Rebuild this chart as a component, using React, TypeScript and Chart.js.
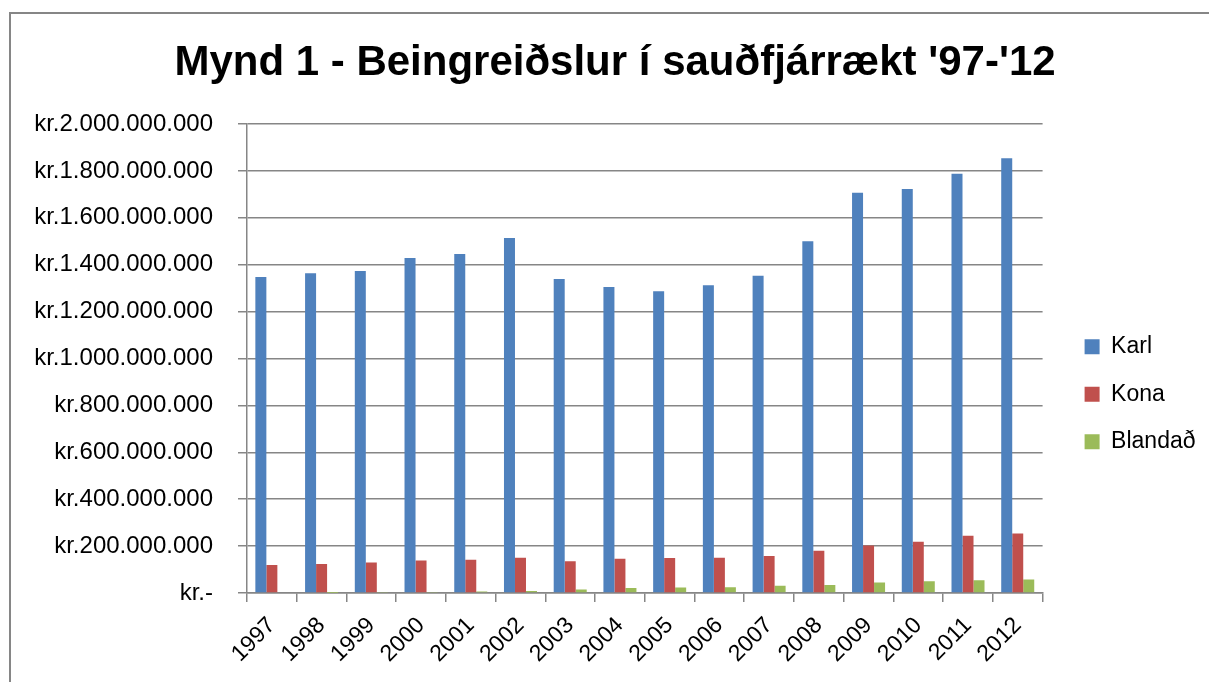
import React, { useEffect, useRef } from 'react';
import { Chart, registerables } from 'chart.js';

Chart.register(...registerables);

const years = ['1997', '1998', '1999', '2000', '2001', '2002', '2003', '2004', '2005', '2006', '2007', '2008', '2009', '2010', '2011', '2012'];
const karl = [1348e6, 1364e6, 1373e6, 1429e6, 1446e6, 1514e6, 1339e6, 1305e6, 1287e6, 1312e6, 1353e6, 1500e6, 1707e6, 1723e6, 1788e6, 1854e6];
const kona = [119e6, 124e6, 130e6, 139e6, 142e6, 150e6, 135e6, 146e6, 149e6, 150e6, 158e6, 180e6, 203e6, 219e6, 244e6, 254e6];
const blandad = [0, 0.5e6, 2e6, 4e6, 6e6, 9e6, 15e6, 21e6, 23e6, 24e6, 31e6, 34e6, 45e6, 50e6, 54e6, 58e6];
const yTickLabels = ['kr.-', 'kr.200.000.000', 'kr.400.000.000', 'kr.600.000.000', 'kr.800.000.000', 'kr.1.000.000.000', 'kr.1.200.000.000', 'kr.1.400.000.000', 'kr.1.600.000.000', 'kr.1.800.000.000', 'kr.2.000.000.000'];
const seriesNames = ['Karl', 'Kona', 'Blandað'];
const titleText = "Mynd 1 - Beingreiðslur í sauðfjárrækt '97-'12";

const FONT = "'Liberation Sans', Arial, sans-serif";
const GRID = '#868686';

export default function App() {
  const ref = useRef<HTMLCanvasElement>(null);
  useEffect(() => {
    if (!ref.current) return;
    const chart = new Chart(ref.current, {
      type: 'bar',
      data: {
        labels: years,
        datasets: [
          { label: seriesNames[0], data: karl, backgroundColor: '#4F81BD', yAxisID: 'y' },
          { label: seriesNames[1], data: kona, backgroundColor: '#C0504D', yAxisID: 'y' },
          { label: seriesNames[2], data: blandad, backgroundColor: '#9BBB59', yAxisID: 'y' },
        ],
      },
      options: {
        responsive: false,
        animation: false,
        datasets: { bar: { categoryPercentage: 0.664, barPercentage: 1 } },
        layout: { padding: { left: 24.5, top: 12, right: 3.5, bottom: 0 } },
        plugins: {
          title: {
            display: true,
            text: titleText,
            color: '#000',
            font: { family: FONT, size: 42, weight: 'bold' },
            padding: { top: 26, bottom: 35.6 },
          },
          legend: {
            position: 'right',
            title: { display: true, text: '', font: { size: 12 }, padding: { top: 80, bottom: 0 } },
            labels: {
              boxWidth: 15,
              boxHeight: 15,
              padding: 24.5,
              color: '#000',
              font: { family: FONT, size: 23 },
            },
          },
          tooltip: { enabled: false },
        },
        scales: {
          x: {
            grid: { offset: true, drawOnChartArea: false, tickLength: 9, color: GRID, lineWidth: 1.5 },
            border: { color: GRID, width: 1.5 },
            ticks: { minRotation: 45, maxRotation: 45, color: '#000', font: { family: FONT, size: 23 }, padding: 10 },
            afterFit: (s: any) => { s.height = 89; },
          },
          y: {
            min: 0,
            max: 2e9,
            ticks: {
              stepSize: 2e8,
              color: '#000',
              font: { family: FONT, size: 24 },
              padding: 25,
              callback: (v: any) => yTickLabels[Math.round(Number(v) / 2e8)],
            },
            grid: { color: GRID, lineWidth: 1.5, tickLength: 9 },
            border: { color: GRID, width: 1.5 },
            afterFit: (s: any) => { s.width = 222.5; },
          },
          y1: {
            position: 'right',
            display: true,
            grid: { display: false },
            ticks: { display: false },
            border: { display: false },
            afterFit: (s: any) => { s.width = 17.5; },
          },
        },
      } as any,
    });
    return () => chart.destroy();
  }, []);

  return (
    <div style={{ position: 'fixed', left: 0, top: 0, width: 1209, height: 682, overflow: 'hidden', background: '#fff' }}>
      <div style={{ position: 'absolute', left: 9, top: 12, width: 1220, height: 700, borderTop: '2px solid #868686', borderLeft: '2px solid #868686', boxSizing: 'border-box' }} />
      <canvas ref={ref} width={1209} height={682} style={{ position: 'absolute', left: 0, top: 0 }} />
    </div>
  );
}
